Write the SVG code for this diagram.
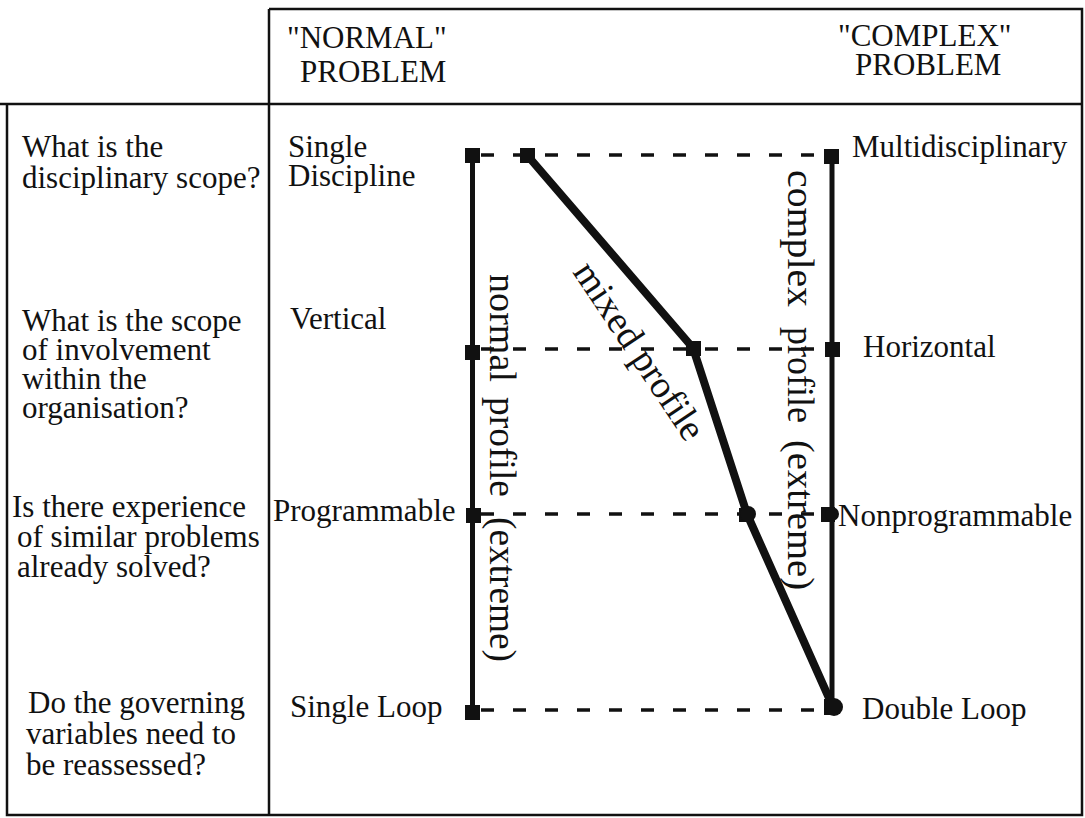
<svg xmlns="http://www.w3.org/2000/svg" width="1085" height="818" viewBox="0 0 1085 818">
  <style>
    text { font-family: "Liberation Serif", "Times New Roman", serif; fill: #111; }
    .t { font-size: 31px; }
    .rot { font-size: 38px; }
    .frame { fill: none; stroke: #111; stroke-width: 2.5; }
    .dash { fill: none; stroke: #111; stroke-width: 3.5; stroke-dasharray: 13 19; stroke-dashoffset: 23; }
    .axis { fill: none; stroke: #111; stroke-width: 5; }
    .mixed { fill: none; stroke: #111; stroke-width: 8; stroke-linejoin: round; }
    .mk { fill: #111; }
  </style>

  <!-- table frame -->
  <g id="frame">
    <path class="frame" d="M269 9 H1082 V815 H7 V104 H0 M0 104 H1082 M269 9 V815"/>
  </g>

  <!-- column headers -->
  <g id="header-normal">
    <text class="t" x="287" y="48">"NORMAL"</text>
    <text class="t" x="300" y="82">PROBLEM</text>
  </g>
  <g id="header-complex">
    <text class="t" x="838" y="46">"COMPLEX"</text>
    <text class="t" x="855" y="75">PROBLEM</text>
  </g>

  <!-- questions -->
  <g id="q-discipline">
    <text class="t" x="22" y="157">What is the</text>
    <text class="t" x="22" y="188">disciplinary scope?</text>
  </g>
  <g id="q-involvement">
    <text class="t" x="22" y="331">What is the scope</text>
    <text class="t" x="22" y="360">of involvement</text>
    <text class="t" x="22" y="389">within the</text>
    <text class="t" x="22" y="418">organisation?</text>
  </g>
  <g id="q-experience">
    <text class="t" x="12" y="517">Is there experience</text>
    <text class="t" x="17" y="547">of similar problems</text>
    <text class="t" x="17" y="577">already solved?</text>
  </g>
  <g id="q-variables">
    <text class="t" x="28" y="713">Do the governing</text>
    <text class="t" x="26" y="744">variables need to</text>
    <text class="t" x="26" y="775">be reassessed?</text>
  </g>

  <!-- scale end labels -->
  <g id="lbl-single-discipline">
    <text class="t" x="288" y="157">Single</text>
    <text class="t" x="288" y="186">Discipline</text>
  </g>
  <g id="lbl-multidisciplinary"><text class="t" x="852" y="157">Multidisciplinary</text></g>
  <g id="lbl-vertical"><text class="t" x="290" y="329">Vertical</text></g>
  <g id="lbl-horizontal"><text class="t" x="863" y="357">Horizontal</text></g>
  <g id="lbl-programmable"><text class="t" x="273" y="521">Programmable</text></g>
  <g id="lbl-nonprogrammable"><text class="t" x="838" y="526">Nonprogrammable</text></g>
  <g id="lbl-single-loop"><text class="t" x="290" y="717">Single Loop</text></g>
  <g id="lbl-double-loop"><text class="t" x="862" y="719">Double Loop</text></g>

  <!-- connectors: dashed rows, profile axes, mixed profile -->
  <g id="connectors">
    <line class="dash" x1="472" y1="155" x2="832" y2="155"/>
    <line class="dash" x1="472" y1="349" x2="832" y2="349"/>
    <line class="dash" x1="472" y1="514" x2="832" y2="514"/>
    <line class="dash" x1="472" y1="710" x2="832" y2="710"/>
    <line class="axis" x1="472.5" y1="155" x2="472.5" y2="713"/>
    <line class="axis" x1="832" y1="155" x2="832" y2="708"/>
    <polyline class="mixed" points="527,155 693,348 747,514 833,707"/>
  </g>

  <!-- point markers -->
  <g id="markers">
    <rect class="mk" x="465" y="148" width="15" height="15"/>
    <rect class="mk" x="520" y="148" width="15" height="15"/>
    <rect class="mk" x="824" y="149" width="15" height="15"/>
    <rect class="mk" x="465" y="345" width="15" height="15"/>
    <rect class="mk" x="686" y="341" width="15" height="15"/>
    <rect class="mk" x="825" y="342" width="15" height="15"/>
    <rect class="mk" x="466" y="508" width="15" height="15"/>
    <rect class="mk" x="739" y="508" width="14" height="14"/>
    <circle class="mk" cx="748" cy="514" r="8"/>
    <rect class="mk" x="821" y="507" width="14" height="15"/>
    <circle class="mk" cx="832" cy="514" r="7"/>
    <rect class="mk" x="465" y="705" width="15" height="15"/>
    <rect class="mk" x="824" y="699" width="14" height="16"/>
    <circle class="mk" cx="834" cy="707" r="9"/>
  </g>

  <!-- profile captions -->
  <g id="cap-normal" transform="translate(490,0) rotate(90)">
    <text class="rot" x="274" y="0" textLength="108" lengthAdjust="spacingAndGlyphs">normal</text>
    <text class="rot" x="397" y="0" textLength="100" lengthAdjust="spacingAndGlyphs">profile</text>
    <text class="rot" x="517" y="0" textLength="145" lengthAdjust="spacingAndGlyphs">(extreme)</text>
  </g>
  <g id="cap-complex" transform="translate(788,0) rotate(90)">
    <text class="rot" x="170" y="0" textLength="137" lengthAdjust="spacingAndGlyphs">complex</text>
    <text class="rot" x="327" y="0" textLength="96" lengthAdjust="spacingAndGlyphs">profile</text>
    <text class="rot" x="440" y="0" textLength="150" lengthAdjust="spacingAndGlyphs">(extreme)</text>
  </g>
  <g id="cap-mixed" transform="translate(572,272) rotate(56.3)">
    <text class="rot" x="0" y="0">mixed profile</text>
  </g>
</svg>
